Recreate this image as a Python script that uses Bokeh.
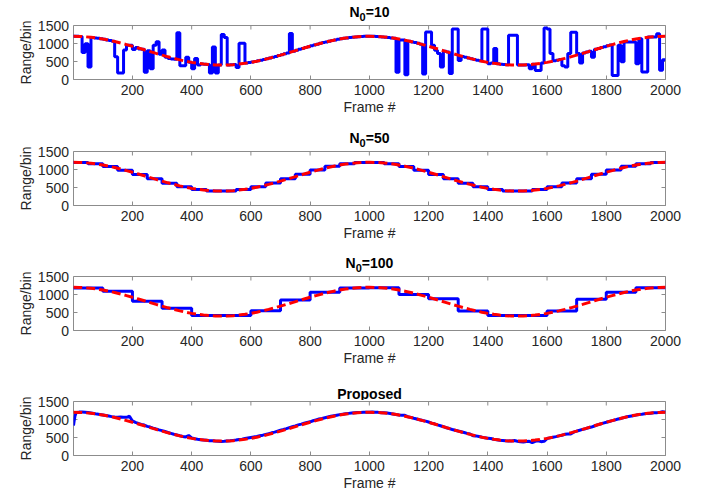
import math
from bokeh.plotting import figure
from bokeh.layouts import column, row
from bokeh.models import Range1d, FixedTicker
from bokeh.core.properties import value
from bokeh.embed import file_html
from bokeh.resources import INLINE

# ---------------- data ----------------
x_ticks = [200, 400, 600, 800, 1000, 1200, 1400, 1600, 1800, 2000]
y_ticks = [0, 500, 1000, 1500]
y_tick_labels = ["0", "500", "1000", "1500"]
x_lim = [1, 2000]
y_lim = [0, 1500]
x_label = "Frame #"
y_label = "Range/bin"

# true range (red dashed), sampled every 20 frames from 0 to 2000
truth_frames = list(range(0, 2001, 20))
truth_values = [
    1200, 1197, 1187, 1172, 1151, 1124, 1092, 1055, 1014, 970, 924, 875, 825,
    775, 725, 676, 630, 586, 545, 508, 476, 450, 428, 413, 403, 400,
    403, 413, 428, 450, 476, 508, 545, 586, 630, 676, 725, 775, 825, 875,
    924, 970, 1014, 1055, 1092, 1124, 1151, 1172, 1187, 1197, 1200,
    1197, 1187, 1172, 1151, 1124, 1092, 1055, 1014, 970, 924, 875, 825,
    775, 725, 676, 630, 586, 545, 508, 476, 450, 428, 413, 403, 400,
    403, 413, 428, 450, 476, 508, 545, 586, 630, 676, 725, 775, 825, 875,
    924, 970, 1014, 1055, 1092, 1124, 1151, 1172, 1187, 1197, 1200,
]

# N0=10 : one estimate per 10-frame block (200 blocks)
n10_values = [
    1200, 1198, 1195, 750, 990, 350, 1167, 1156, 1144, 1131,
    1116, 1100, 1083, 1065, 630, 180, 180, 820, 950, 950,
    830, 887, 850, 838, 200, 800, 300, 950, 1050, 700,
    820, 620, 580, 570, 560, 1300, 380, 380, 620, 480,
    300, 580, 400, 433, 424, 416, 180, 900, 180, 400,
    1250, 1170, 405, 410, 416, 330, 1010, 1010, 456, 469,
    484, 500, 518, 535, 555, 575, 596, 618, 641, 665,
    688, 713, 738, 1280, 787, 813, 838, 863, 887, 912,
    935, 959, 982, 1004, 1025, 1045, 1065, 1083, 1100, 1116,
    1131, 1144, 1156, 1167, 1176, 1184, 1190, 1195, 1198, 1200,
    1200, 1198, 1195, 1190, 1184, 1176, 1167, 1156, 1144, 200,
    1100, 1100, 130, 1065, 1045, 1025, 1004, 982, 150, 1320,
    1320, 950, 810, 720, 350, 787, 762, 165, 1400, 1400,
    530, 641, 618, 596, 575, 555, 535, 518, 1400, 1400,
    440, 456, 860, 440, 424, 416, 410, 1230, 1230, 1230,
    400, 402, 405, 410, 300, 424, 250, 250, 456, 1430,
    1400, 720, 518, 535, 555, 380, 350, 720, 1315, 1315,
    720, 460, 738, 762, 787, 620, 838, 863, 887, 912,
    935, 959, 110, 110, 950, 490, 1040, 1040, 1040, 1040,
    440, 1130, 210, 210, 1180, 1180, 1180, 1270, 260, 550,
]

# N0=50 : one estimate per 50-frame block (40 blocks)
n50_values = [
    1195, 1160, 1085, 980, 860, 740, 620, 518, 445, 405,
    405, 445, 520, 625, 745, 870, 985, 1090, 1160, 1195,
    1195, 1160, 1085, 980, 860, 740, 620, 518, 445, 405,
    405, 445, 520, 625, 745, 870, 985, 1090, 1160, 1195,
]

# N0=100 : one estimate per 100-frame block (20 blocks)
n100_values = [
    1180, 1090, 810, 620, 420, 420, 550, 850, 1065, 1180,
    1185, 1000, 880, 540, 420, 420, 540, 870, 1060, 1185,
]

# Proposed tracker output
prop_frames = [1, 3, 6] + list(range(10, 2001, 10))
prop_values = [
    830, 950, 1100,
    1195, 1205, 1208, 1200, 1192, 1180, 1168, 1150, 1140, 1125,
    1110, 1095, 1080, 1068, 1062, 1070, 1065, 1060, 1090, 960,
    920, 890, 865, 845, 810, 790, 760, 735, 712, 690,
    665, 640, 615, 590, 570, 548, 530, 515, 555, 490,
    465, 452, 440, 432, 422, 412, 410, 402, 398, 392,
    395, 405, 410, 420, 428, 445, 455, 470, 485, 500,
    515, 530, 548, 565, 585, 605, 630, 650, 675, 700,
    722, 748, 775, 800, 822, 850, 872, 898, 920, 935,
    965, 990, 1012, 1030, 1050, 1070, 1090, 1105, 1120, 1135,
    1148, 1160, 1170, 1178, 1185, 1192, 1196, 1200, 1198, 1200,
    1205, 1202, 1198, 1190, 1185, 1178, 1168, 1155, 1140, 1128,
    1120, 1115, 1078, 1058, 1035, 1015, 992, 972, 955, 930,
    900, 880, 850, 825, 800, 770, 748, 722, 700, 680,
    660, 640, 615, 600, 548, 545, 528, 510, 490, 482,
    470, 450, 438, 425, 418, 410, 405, 402, 415, 395,
    380, 372, 390, 395, 360, 395, 410, 385, 395, 470,
    490, 508, 525, 545, 562, 588, 600, 600, 650, 676,
    700, 725, 745, 770, 790, 820, 850, 875, 900, 922,
    945, 968, 990, 1012, 1030, 1052, 1075, 1090, 1105, 1122,
    1140, 1148, 1160, 1170, 1172, 1185, 1190, 1198, 1215, 1200,
]

# panel titles: (main letter, subscript, rest)  /  plain title
panel_titles = [("N", "0", "=10"), ("N", "0", "=50"), ("N", "0", "=100"), "Proposed"]

# ---------------- styling / layout ----------------
FONT = "Liberation Sans"
BOX = "#8c8c8c"
TXT = "#262626"
BLUE = "#0000ff"
RED = "#ff0000"
W = 710
LABEL_W = 72           # strip carrying the y-axis label and tick labels
INNER_W = W - LABEL_W
LEFT, RIGHT = 1, 45
FRAME_H = 54


def step_xy(block, values):
    xs = list(range(0, block * len(values) + 1, block))
    ys = list(values) + [values[-1]]
    return xs, ys


def blank_fig(width, height, xr, yr, left=0, right=0):
    f = figure(width=width, height=height, x_range=xr, y_range=yr,
               title=None, x_axis_type=None, y_axis_type=None,
               output_backend="svg", toolbar_location=None,
               min_border_left=left, min_border_right=right,
               min_border_top=0, min_border_bottom=0)
    f.outline_line_color = None
    f.grid.visible = False
    f.background_fill_color = "white"
    f.border_fill_color = "white"
    return f


def label_strip(height, frame_top):
    """Left strip: y tick labels and the rotated y-axis label, on a y scale
    that lines up with the panel frame next to it."""
    k = (y_lim[1] - y_lim[0]) / FRAME_H
    frame_bottom = frame_top + FRAME_H
    yr = Range1d(y_lim[0] - (height - frame_bottom) * k,
                 y_lim[1] + frame_top * k)
    s = blank_fig(LABEL_W, height, Range1d(0, LABEL_W), yr)
    s.text(x=[68.5] * len(y_ticks), y=y_ticks, text=y_tick_labels,
           text_align="right", text_baseline="middle",
           text_font=value(FONT), text_font_size=value("14px"),
           text_color=TXT)
    s.text(x=[25.5], y=[(y_lim[0] + y_lim[1]) / 2], text=[y_label],
           angle=math.pi / 2, text_align="center", text_baseline="alphabetic",
           text_font=value(FONT), text_font_size=value("14px"),
           text_color=TXT)
    return s


def title_strip(height, title):
    t = blank_fig(INNER_W, height, Range1d(*x_lim), Range1d(0, height),
                  LEFT, RIGHT)
    cx = (x_lim[0] + x_lim[1]) / 2
    common = dict(text_font=value(FONT), text_font_style="bold",
                  text_color="black", text_baseline="alphabetic")
    if isinstance(title, tuple):
        main, sub, rest = title
        w_main = 0.722 * 14
        w_sub = 0.556 * 11
        w_rest = sum(0.584 if c == "=" else 0.556 for c in rest) * 14
        start = -(w_main + w_sub + w_rest) / 2
        t.text(x=[cx], y=[13], text=[main], x_offset=start,
               text_align="left", text_font_size=value("14px"), **common)
        t.text(x=[cx], y=[7.5], text=[sub], x_offset=start + w_main,
               text_align="left", text_font_size=value("11px"), **common)
        t.text(x=[cx], y=[13], text=[rest],
               x_offset=start + w_main + w_sub,
               text_align="left", text_font_size=value("14px"), **common)
    else:
        t.text(x=[cx], y=[7], text=[title], text_align="center",
               text_font_size=value("14px"), **common)
    return t


def make_panel(height, bottom):
    p = figure(width=INNER_W, height=height, title=None,
               x_range=Range1d(*x_lim), y_range=Range1d(*y_lim),
               y_axis_location=None,
               output_backend="svg", toolbar_location=None,
               min_border_left=LEFT, min_border_right=RIGHT,
               min_border_top=1, min_border_bottom=bottom)
    p.background_fill_color = "white"
    p.border_fill_color = "white"
    p.grid.visible = False
    p.outline_line_color = BOX
    p.outline_line_width = 1

    ax = p.xaxis[0]
    ax.ticker = FixedTicker(ticks=x_ticks)
    ax.major_label_text_font = FONT
    ax.major_label_text_font_size = "14px"
    ax.major_label_text_color = TXT
    ax.axis_label = x_label
    ax.axis_label_text_font = FONT
    ax.axis_label_text_font_size = "14px"
    ax.axis_label_text_font_style = "normal"
    ax.axis_label_text_color = TXT
    ax.axis_label_standoff = 1
    ax.major_label_standoff = 5
    ax.major_tick_in = 4
    ax.major_tick_out = 0
    ax.minor_tick_line_color = None
    ax.major_tick_line_color = BOX
    ax.axis_line_color = BOX

    # inward ticks on the top, left and right edges of the box
    p.scatter(list(x_ticks), [y_lim[1]] * len(x_ticks), marker="dash",
              size=8, angle=math.pi / 2, line_color=BOX, line_width=1)
    p.scatter([x_lim[0]] * len(y_ticks), list(y_ticks), marker="dash",
              size=8, line_color=BOX, line_width=1)
    p.scatter([x_lim[1]] * len(y_ticks), list(y_ticks), marker="dash",
              size=8, line_color=BOX, line_width=1)
    return p


def add_truth(p):
    p.line(truth_frames, truth_values, line_color=RED, line_width=3,
           line_dash="9 4")


def block(title, title_h, panel_h, bottom):
    t = title_strip(title_h, title)
    p = make_panel(panel_h, bottom)
    s = label_strip(title_h + panel_h, title_h + 1)
    return p, row(s, column(t, p, spacing=0), spacing=0)


p1, b1 = block(panel_titles[0], 24, 101, 46)
x, y = step_xy(10, n10_values)
p1.step(x, y, mode="after", line_color=BLUE, line_width=3)
add_truth(p1)

p2, b2 = block(panel_titles[1], 25, 100, 45)
x, y = step_xy(50, n50_values)
p2.step(x, y, mode="after", line_color=BLUE, line_width=3)
add_truth(p2)

p3, b3 = block(panel_titles[2], 25, 100, 45)
x, y = step_xy(100, n100_values)
p3.step(x, y, mode="after", line_color=BLUE, line_width=3)
add_truth(p3)

p4, b4 = block(panel_titles[3], 25, 95, 40)
p4.line(prop_frames, prop_values, line_color=BLUE, line_width=3)
add_truth(p4)

layout = column(b1, b2, b3, b4, spacing=0)
open("out.html", "w").write(file_html(layout, INLINE))
